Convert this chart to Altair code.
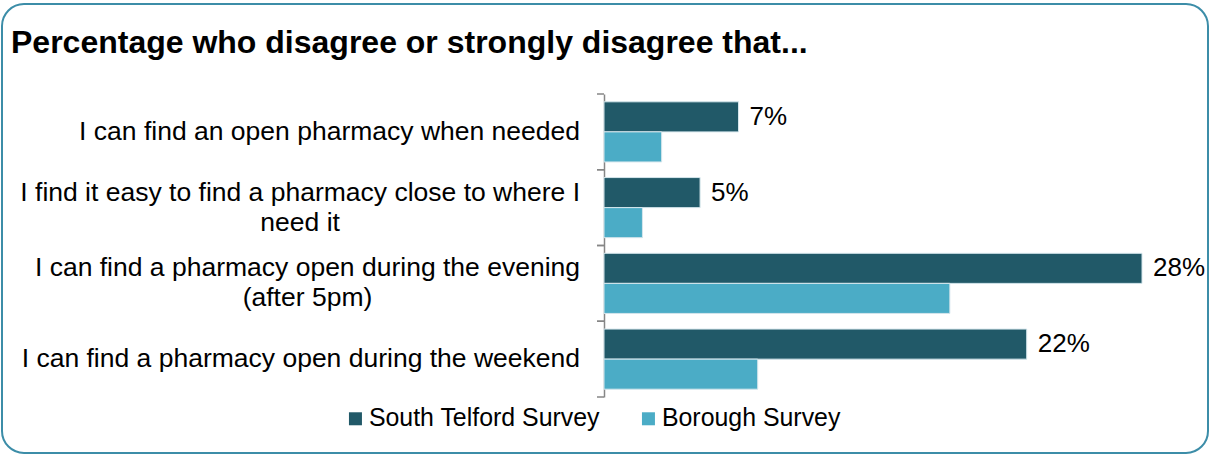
import altair as alt
import pandas as pd

categories = [
    "I can find an open pharmacy when needed",
    "I find it easy to find a pharmacy close to where I|need it",
    "I can find a pharmacy open during the evening|(after 5pm)",
    "I can find a pharmacy open during the weekend",
]
series = ["South Telford Survey", "Borough Survey"]
south_telford = [7, 5, 28, 22]
borough = [3, 2, 18, 8]
colors = ["#215968", "#4BACC6"]

FONT = "Liberation Sans"
LABEL_SIZE = 26.5
LINE_H = 30
LABEL_GAP = 24

# Arial / Liberation Sans advance widths (per 1000 em) used to centre wrapped lines
ADV = {" ": 278, "(": 333, ")": 333, "5": 556, "%": 889, "I": 278, "a": 556,
       "b": 556, "c": 500, "d": 556, "e": 556, "f": 278, "g": 556, "h": 556,
       "i": 222, "j": 222, "k": 500, "l": 222, "m": 833, "n": 556, "o": 556,
       "p": 556, "q": 556, "r": 333, "s": 500, "t": 278, "u": 556, "v": 500,
       "w": 722, "x": 500, "y": 500, "z": 500}


def text_width(s):
    return sum(ADV.get(ch, 556) for ch in s) / 1000 * LABEL_SIZE


rows = []
for c, s, b in zip(categories, south_telford, borough):
    rows.append({"category": c, "series": series[0], "value": s})
    rows.append({"category": c, "series": series[1], "value": b})
df = pd.DataFrame(rows)
cat_df = pd.DataFrame({"category": categories})
frame_df = pd.DataFrame({"k": [0]})

# one row per label line (derived from the category names)
line_rows = []
for c in categories:
    parts = c.split("|")
    centre = -LABEL_GAP - text_width(parts[0]) / 2
    for i, p in enumerate(parts):
        line_rows.append({"category": c, "line": p, "idx": i, "n": len(parts),
                          "cx": centre})
lines_df = pd.DataFrame(line_rows)

x_enc = alt.X("value:Q", scale=alt.Scale(domain=[0, 28], nice=False, zero=True), axis=None)
y_scale = alt.Scale(paddingInner=0, paddingOuter=0)
yoff = alt.YOffset("series:N", sort=series,
                   scale=alt.Scale(domain=series, paddingInner=0, paddingOuter=0.26))

y_axis = alt.Axis(title=None, ticks=False, labels=False, grid=False,
                  domainColor="#868686", domainWidth=1.5)

bars = alt.Chart(df).mark_bar(stroke="#d5e6ec", strokeWidth=1).encode(
    x=x_enc,
    y=alt.Y("category:N", sort=categories, scale=y_scale, axis=y_axis),
    yOffset=yoff,
    color=alt.Color("series:N", sort=series,
                    scale=alt.Scale(domain=series, range=colors),
                    legend=alt.Legend(title=None, orient="none", legendX=-261,
                                      legendY=312, direction="horizontal",
                                      symbolType="square", symbolSize=169,
                                      symbolStrokeWidth=0, labelFontSize=24.9,
                                      labelFont=FONT, labelColor="black",
                                      labelOffset=1, columnPadding=36,
                                      labelLimit=0, padding=0)),
)

labels = alt.Chart(df).transform_filter(
    alt.datum.series == series[0]
).transform_calculate(
    label="datum.value + '%'"
).mark_text(align="left", baseline="middle", dx=11, fontSize=26,
            font=FONT, color="black").encode(
    x=x_enc,
    y=alt.Y("category:N", sort=categories, scale=y_scale, axis=y_axis),
    yOffset=yoff,
    text="label:N",
)


def cat_text(filter_expr, dy):
    return alt.Chart(lines_df).transform_filter(filter_expr).mark_text(
        align="center", baseline="middle", fontSize=LABEL_SIZE, font=FONT,
        color="black", dy=dy).encode(
        x=alt.X("cx:Q", scale=None, axis=None),
        y=alt.Y("category:N", sort=categories, scale=y_scale, axis=y_axis),
        text="line:N",
    )


single_lines = cat_text(alt.datum.n == 1, 0)
first_lines = cat_text((alt.datum.n > 1) & (alt.datum.idx == 0), -LINE_H / 2)
next_lines = cat_text((alt.datum.n > 1) & (alt.datum.idx == 1), LINE_H / 2)

ticks_top = alt.Chart(cat_df).mark_rule(color="#868686", strokeWidth=1.5).encode(
    y=alt.Y("category:N", sort=categories, scale=y_scale, axis=y_axis, bandPosition=0),
    x=alt.value(-7), x2=alt.value(0),
)
ticks_bottom = alt.Chart(cat_df).mark_rule(color="#868686", strokeWidth=1.5).encode(
    y=alt.Y("category:N", sort=categories, scale=y_scale, axis=y_axis, bandPosition=1),
    x=alt.value(-7), x2=alt.value(0),
)

frame = alt.Chart(frame_df).mark_rect(
    fillOpacity=0, stroke="#3C8DA8", strokeWidth=2, cornerRadius=22
).encode(
    x=alt.value(-602), x2=alt.value(604),
    y=alt.value(-90), y2=alt.value(359),
)

chart = alt.layer(bars, labels, single_lines, first_lines, next_lines,
                  ticks_top, ticks_bottom, frame).resolve_scale(
    x="independent"
).properties(
    width=538, height=303,
    title=alt.TitleParams(
        "Percentage who disagree or strongly disagree that...",
        anchor="start", frame="group", dx=-593, fontSize=32, font=FONT,
        fontWeight="bold", color="black", baseline="alphabetic", offset=-82),
    autosize=alt.AutoSizeParams(type="none"),
    padding={"left": 604, "top": 94, "right": 68, "bottom": 58},
    background="white",
).configure_view(stroke=None)

chart.save("out.html", embed_options={"renderer": "svg", "actions": False})
